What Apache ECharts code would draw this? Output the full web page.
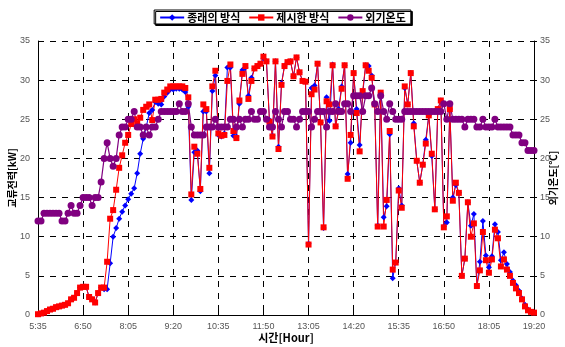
<!DOCTYPE html>
<html><head><meta charset="utf-8">
<script src="https://cdn.jsdelivr.net/npm/echarts@6/dist/echarts.min.js"></script>
<style>html,body{margin:0;padding:0;background:#fff}#c{width:565px;height:347px}</style>
</head><body><div id="c"></div>
<script>
var tickLabels = ['5:35','6:50','8:05','9:20','10:35','11:50','13:05','14:20','15:35','16:50','18:05','19:20'];
var stepMinutes = 5;
var startMinute = 5*60+35;
var pointCount = 166;
var categories = [];
for (var k = 0; k < pointCount; k++) {
  var m = startMinute + k*stepMinutes;
  categories.push(Math.floor(m/60) + ':' + ('0' + (m%60)).slice(-2));
}
var conventional = [0.1,0.2,0.3,0.5,0.7,0.8,1.0,1.1,1.2,1.3,1.5,2.0,2.2,2.8,3.5,3.6,3.6,2.3,2.0,1.6,2.8,3.5,3.3,3.3,6.6,10.0,11.1,12.3,13.2,14.0,14.8,15.5,16.2,18.1,20.6,22.5,24.0,25.8,26.2,27.2,27.0,26.9,27.9,28.4,28.8,28.8,28.9,28.9,28.8,28.5,26.6,14.7,20.8,21.0,15.8,26.0,26.0,18.1,28.6,30.6,23.0,22.8,23.2,31.6,31.6,22.9,22.8,27.0,31.3,31.6,28.0,30.3,31.5,31.8,32.1,32.8,32.4,24.9,22.9,32.4,21.5,29.6,31.8,32.3,32.4,30.5,32.9,31.0,29.9,29.8,9.1,29.0,29.3,32.1,24.6,11.1,27.8,24.8,32.0,24.1,26.3,29.2,31.9,18.0,22.0,30.9,26.3,21.7,28.2,31.9,31.8,30.6,26.9,11.4,28.4,12.5,13.9,23.1,4.7,6.7,16.2,14.0,29.0,26.9,30.9,24.5,19.7,16.9,19.2,22.4,25.5,20.3,13.5,26.3,27.4,11.3,11.8,26.3,15.0,16.6,15.6,5.0,7.2,14.4,11.4,12.9,3.7,6.8,12.0,7.6,6.1,7.5,11.6,10.6,7.0,8.0,6.5,5.5,4.4,3.8,3.1,2.1,1.3,0.7,0.4,0.3];
var proposed = [0.1,0.2,0.3,0.5,0.7,0.8,1.0,1.1,1.2,1.3,1.5,2.0,2.2,2.8,3.5,3.6,3.6,2.3,2.0,1.6,2.8,3.5,3.5,6.8,12.3,13.4,16.0,18.8,20.4,22.0,23.0,24.4,25.0,24.5,25.2,26.2,26.6,26.9,24.9,27.5,27.5,27.6,28.4,28.8,29.2,29.2,29.2,29.2,29.2,29.0,27.8,15.4,21.5,20.6,16.1,26.9,26.3,18.8,29.2,31.2,23.2,22.9,23.0,29.9,32.0,23.5,22.6,27.4,30.8,31.8,27.6,29.9,31.5,31.8,32.1,33.0,32.4,24.7,22.8,32.4,21.2,29.4,31.8,32.3,32.4,30.5,32.9,31.0,29.9,29.8,9.0,28.2,28.8,32.1,24.6,11.2,27.3,26.9,31.9,24.1,26.0,28.9,31.9,17.4,23.0,30.9,25.8,20.9,28.6,31.9,31.2,30.3,26.9,11.3,28.4,11.3,14.7,23.5,5.8,6.7,15.9,13.7,29.2,26.9,30.9,24.1,19.7,16.9,19.2,21.9,25.5,20.6,13.5,26.3,27.4,11.2,12.6,26.3,14.6,16.9,15.6,5.0,7.2,14.4,10.0,11.7,3.7,5.7,10.6,7.0,5.4,7.1,10.9,9.8,6.2,7.1,5.8,5.0,4.1,3.4,2.8,2.0,1.1,0.6,0.4,0.3];
var outdoorTemp = [12,12,13,13,13,13,13,13,12,12,13,14,13,13,14,15,15,15,14,15,15,17,20,22,20,19,20,23,24,24,25,25,26,24,24,23,24,23,24,24,25,26,26,26,26,26,26,27,26,26,27,24,23,23,23,23,24,24,24,25,24,24,24,24,25,25,24,25,24,25,25,26,25,25,26,26,25,24,24,26,25,24,26,26,25,25,24,25,26,26,26,24,25,26,26,26,24,26,26,27,26,26,27,27,26,28,28,28,26,28,28,29,27,26,28,26,25,27,26,25,25,25,26,26,26,26,26,26,26,26,26,26,26,26,26,27,25,27,25,25,25,25,24,25,25,25,24,24,25,24,24,24,25,24,24,24,24,24,23,23,23,22,22,21,21,21];
var seriesNames = ['종래의 방식','제시한 방식','외기온도'];

var labelSet = {};
tickLabels.forEach(function(t){ labelSet[t] = true; });
function isTick(idx){ return !!labelSet[categories[idx]]; }

var kr = '"Noto Sans CJK KR", "Noto Sans", sans-serif';
var lab = '"Liberation Sans", Arial, sans-serif';
var chart = echarts.init(document.getElementById('c'), null, {renderer:'canvas'});
chart.setOption({
  animation: false,
  backgroundColor: '#fff',
  legend: {
    top: 10, left: 'center',
    data: seriesNames,
    borderColor: '#000', borderWidth: 1,
    padding: [2, 5, 1, 5],
    itemGap: 8, itemWidth: 24, itemHeight: 8,
    shadowColor: '#000', shadowOffsetX: 1.5, shadowOffsetY: 1.5, shadowBlur: 0,
    backgroundColor: '#fff',
    textStyle: { fontFamily: kr, fontWeight: 'bold', fontSize: 11, color: '#000', padding: [0,0,0,-2] }
  },
  grid: { left: 38, right: 31, top: 41, bottom: 32, outerBoundsMode: 'none', containLabel: false },
  xAxis: {
    type: 'category', data: categories, boundaryGap: false,
    name: '시간[Hour]', nameLocation: 'middle', nameGap: 17, nameMoveOverlap: false,
    nameTextStyle: { fontFamily: kr, fontWeight: 'bold', fontSize: 11, color: '#000', verticalAlign: 'top' },
    axisLine: { lineStyle: { color: '#000', width: 1 } },
    axisTick: { show: true, interval: function(i){ return isTick(i); }, length: 4, inside: true, lineStyle:{color:'#000'} },
    axisLabel: { interval: function(i){ return isTick(i); }, color: '#555', fontFamily: lab, fontSize: 9, margin: 7 },
    splitLine: { show: true, interval: function(i){ return isTick(i); }, lineStyle: { color: '#000', type: [6, 6], width: 1 } }
  },
  yAxis: [{
    type: 'value', min: 0, max: 35, interval: 5,
    name: '교류전력[kW]', nameLocation: 'middle', nameGap: 21, nameMoveOverlap: false,
    nameTextStyle: { fontFamily: kr, fontWeight: 'bold', fontSize: 10, color: '#000' },
    axisLine: { show: true, lineStyle: { color: '#000' } },
    axisTick: { show: true, inside: true, length: 4, lineStyle:{color:'#000'} },
    axisLabel: { color: '#555', fontFamily: lab, fontSize: 9, margin: 8 },
    splitLine: { show: true, lineStyle: { color: '#000', type: [6, 6], width: 1 } }
  }, {
    type: 'value', min: 0, max: 35, interval: 5, position: 'right',
    name: '외기온도[℃]', nameLocation: 'middle', nameGap: 14, nameRotate: 90, nameMoveOverlap: false,
    nameTextStyle: { fontFamily: kr, fontWeight: 'bold', fontSize: 10, color: '#000' },
    axisLine: { show: true, lineStyle: { color: '#000' } },
    axisTick: { show: true, inside: false, length: 3, lineStyle:{color:'#000'} },
    axisLabel: { color: '#555', fontFamily: lab, fontSize: 9, margin: 6 },
    splitLine: { show: false }
  }],
  series: [{
    name: seriesNames[0], type: 'line', data: conventional, yAxisIndex: 0,
    symbol: 'diamond', symbolSize: 6, showAllSymbol: true,
    lineStyle: { color: '#0000ff', width: 1 }, itemStyle: { color: '#0000ff' }
  }, {
    name: seriesNames[1], type: 'line', data: proposed, yAxisIndex: 0,
    symbol: 'rect', symbolSize: 6, showAllSymbol: true,
    lineStyle: { color: '#ff0000', width: 1 }, itemStyle: { color: '#ff0000' }
  }, {
    name: seriesNames[2], type: 'line', data: outdoorTemp, yAxisIndex: 1,
    symbol: 'circle', symbolSize: 7, showAllSymbol: true,
    lineStyle: { color: '#800080', width: 1.2 }, itemStyle: { color: '#800080' }
  }]
});
</script></body></html>
